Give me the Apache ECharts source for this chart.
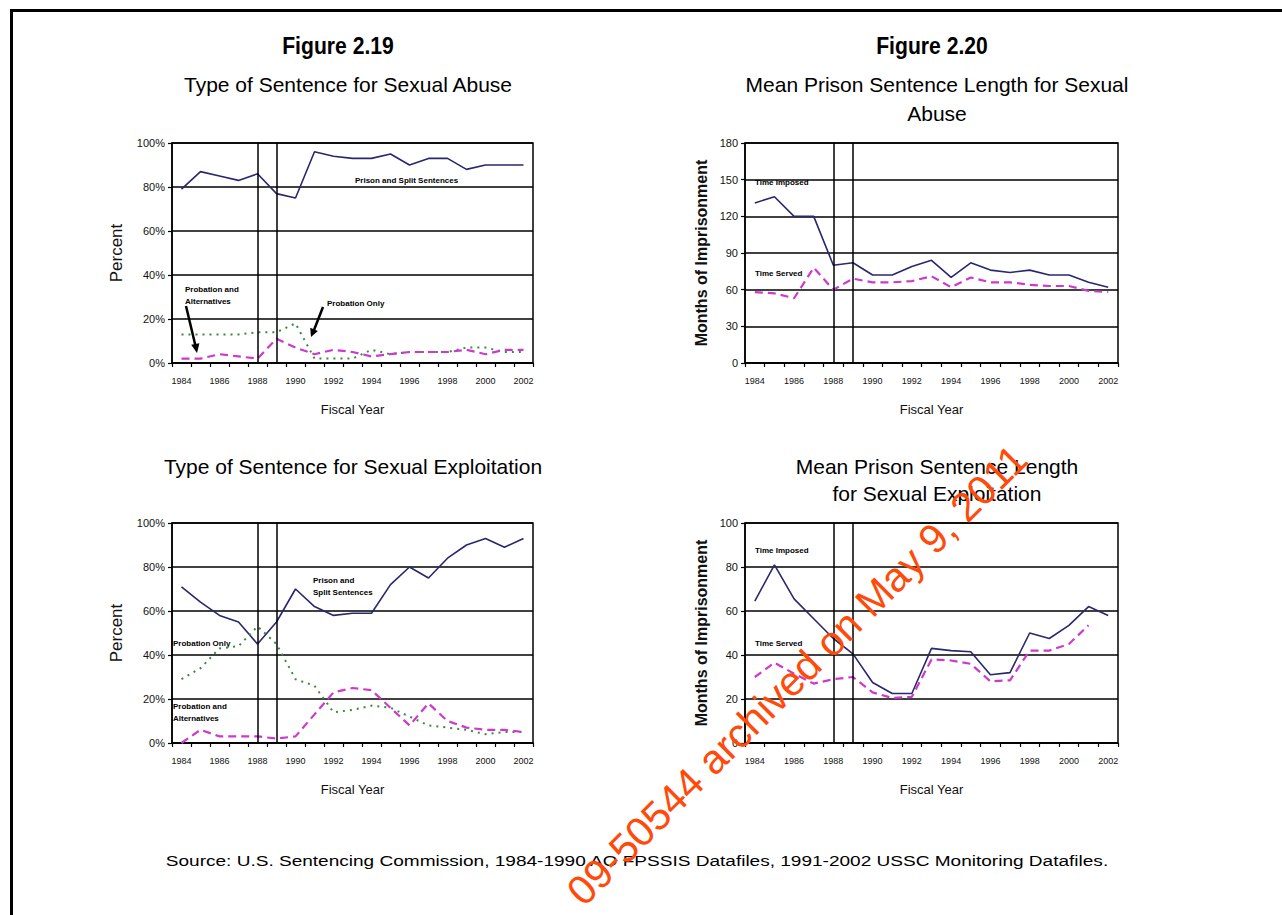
<!DOCTYPE html>
<html>
<head>
<meta charset="utf-8">
<script src="https://cdn.jsdelivr.net/npm/echarts@6/dist/echarts.min.js"></script>
<style>
html,body{margin:0;padding:0;background:#fff;}
#c{width:1282px;height:915px;}
</style>
</head>
<body>
<div id="c"></div>
<script>
// ---- data ----
const years = ['1984','1985','1986','1987','1988','1989','1990','1991','1992','1993','1994','1995','1996','1997','1998','1999','2000','2001','2002'];
const guidelineYears = ['1988','1989'];

// Figure 2.19 – Type of Sentence for Sexual Abuse (percent)
const abusePrison   = [79,87,85,83,86,77,75,96,94,93,93,95,90,93,93,88,90,90,90];
const abuseProbOnly = [13,13,13,13,14,14,18,2,2,2,6,4,5,5,5,7,7,5,5];
const abuseProbAlt  = [2,2,4,3,2,11,7,4,6,5,3,4,5,5,5,6,4,6,6];

// Figure 2.20 – Mean Prison Sentence Length for Sexual Abuse (months)
const abuseImposed = [131,136,120,120,80,82,72,72,79,84,70,82,76,74,76,72,72,66,62];
const abuseServed  = [58,57,53,78,60,69,66,66,67,71,62,70,66,66,64,63,63,59,58];

// Type of Sentence for Sexual Exploitation (percent)
const exploitPrison   = [71,64,58,55,45,55,70,62,58,59,59,72,80,75,84,90,93,89,93];
const exploitProbOnly = [29,34,43,44,53,45,29,26,14,15,17,16,12,8,7,6,4,5,5];
const exploitProbAlt  = [0,6,3,3,3,2,3,13,23,25,24,16,8,18,10,7,6,6,5];

// Mean Prison Sentence Length for Sexual Exploitation (months)
const exploitImposed = [64.5,81,65.5,56.5,47.5,40.5,27.5,22.5,22.5,43,42,41.5,31,32,50,47.5,53.5,62,58];
const exploitServed  = [30,36.5,31.5,27,29,30,23,20.5,21,38,37.5,36,28,28.5,42,42,45,53.5,null];

// ---- styles ----
const NAVY = '#28286e', PINK = '#cc3acc', GREEN = '#3a8a3a';
const FONT = '"Liberation Sans", Arial, sans-serif';

const chart = echarts.init(document.getElementById('c'), null, {renderer:'svg'});

const grids = [
  {left:172, top:143, width:361, height:220},
  {left:745, top:143, width:373, height:220},
  {left:172, top:523, width:361, height:220},
  {left:745, top:523, width:373, height:220}
].map(g => Object.assign(g, {show:true, borderColor:'#000', borderWidth:1.5, backgroundColor:'transparent'}));

function xAxis(i){
  return {
    type:'category', gridIndex:i, data:years, boundaryGap:true,
    name:'Fiscal Year', nameLocation:'middle', nameGap:40,
    nameTextStyle:{fontFamily:FONT, fontSize:13, color:'#111'},
    axisLine:{lineStyle:{color:'#000', width:1.5}},
    axisTick:{show:true, interval:0, length:4, lineStyle:{color:'#000', width:1.2}},
    axisLabel:{interval:1, margin:13, fontFamily:FONT, fontSize:9, color:'#111'},
    splitLine:{show:false}
  };
}
function yAxis(i, max, interval, pct, nameGap){
  return {
    type:'value', gridIndex:i, min:0, max:max, interval:interval,
    name: pct ? 'Percent' : 'Months of Imprisonment',
    nameLocation:'middle', nameGap:nameGap, nameRotate:90,
    nameTextStyle:{fontFamily:FONT, fontSize: pct ? 17 : 16, fontWeight: pct ? 'normal' : 'bold', color:'#111'},
    axisLine:{show:true, lineStyle:{color:'#000', width:1.5}},
    axisTick:{show:true, length:4, lineStyle:{color:'#000', width:1.2}},
    axisLabel:{margin:7, fontFamily:FONT, fontSize:11, color:'#111', formatter: pct ? '{value}%' : '{value}'},
    splitLine:{show:true, lineStyle:{color:'#000', width:1.5}}
  };
}

const guideMark = {
  silent:true, symbol:'none', animation:false,
  label:{show:false},
  lineStyle:{color:'#000', width:1.5, type:'solid'},
  data: guidelineYears.map(y => ({xAxis:y}))
};

function line(i, data, color, type, width, mark){
  const s = {
    type:'line', xAxisIndex:i, yAxisIndex:i, data:data,
    symbol:'none', smooth:false, animation:false, connectNulls:false,
    lineStyle:{color:color, width:width, type:type}
  };
  if (mark) s.markLine = guideMark;
  return s;
}

const DASH = [8,5], DOT = [2,5];

const series = [
  line(0, abusePrison, NAVY, 'solid', 1.6, true),
  line(0, abuseProbOnly, GREEN, DOT, 2, false),
  line(0, abuseProbAlt, PINK, DASH, 2.2, false),
  line(1, abuseImposed, NAVY, 'solid', 1.6, true),
  line(1, abuseServed, PINK, DASH, 2.2, false),
  line(2, exploitPrison, NAVY, 'solid', 1.6, true),
  line(2, exploitProbOnly, GREEN, DOT, 2, false),
  line(2, exploitProbAlt, PINK, DASH, 2.2, false),
  line(3, exploitImposed, NAVY, 'solid', 1.6, true),
  line(3, exploitServed, PINK, DASH, 2.2, false)
];

function txt(x, y, text, size, weight, align, extra){
  return Object.assign({
    type:'text', x:x, y:y, silent:true,
    style:{text:text, fontFamily:FONT, fontSize:size, fontWeight:weight||'normal',
           fill:'#000', textAlign:align||'left', textVerticalAlign:'middle'}
  }, extra||{});
}
function note(x, y, text){ return txt(x, y, text, 8, 'bold', 'left'); }

const graphics = [
  // page frame
  {type:'line', silent:true, shape:{x1:10, y1:10.5, x2:1282, y2:10.5}, style:{stroke:'#000', lineWidth:3}},
  {type:'line', silent:true, shape:{x1:11.5, y1:9, x2:11.5, y2:915}, style:{stroke:'#000', lineWidth:3}},
  // titles
  txt(338, 46, 'Figure 2.19', 23, 'bold', 'center', {scaleX:0.92}),
  txt(348, 84, 'Type of Sentence for Sexual Abuse', 21, 'normal', 'center'),
  txt(932, 46, 'Figure 2.20', 23, 'bold', 'center', {scaleX:0.92}),
  txt(937, 84, 'Mean Prison Sentence Length for Sexual', 21, 'normal', 'center'),
  txt(937, 113, 'Abuse', 21, 'normal', 'center'),
  txt(353, 466, 'Type of Sentence for Sexual Exploitation', 21, 'normal', 'center'),
  txt(937, 466, 'Mean Prison Sentence Length', 21, 'normal', 'center'),
  txt(937, 493, 'for Sexual Exploitation', 21, 'normal', 'center'),
  txt(637, 861, 'Source: U.S. Sentencing Commission, 1984-1990 AO FPSSIS Datafiles, 1991-2002 USSC Monitoring Datafiles.', 15, 'normal', 'center', {scaleX:1.27}),
  // chart 1 notes
  note(355, 180, 'Prison and Split Sentences'),
  note(185, 289, 'Probation and'),
  note(185, 301, 'Alternatives'),
  note(327, 303, 'Probation Only'),
  {type:'line', silent:true, shape:{x1:186, y1:306, x2:195.5, y2:346}, style:{stroke:'#000', lineWidth:2.5}},
  {type:'polygon', silent:true, shape:{points:[[197,353],[191.2,344.8],[199.4,343.2]]}, style:{fill:'#000'}},
  {type:'line', silent:true, shape:{x1:323, y1:307, x2:314, y2:330}, style:{stroke:'#000', lineWidth:2.5}},
  {type:'polygon', silent:true, shape:{points:[[311,337],[310.2,327.8],[317.9,331.1]]}, style:{fill:'#000'}},
  // chart 2 notes
  note(755, 182, 'Time Imposed'),
  note(755, 273, 'Time Served'),
  // chart 3 notes
  note(313, 580, 'Prison and'),
  note(313, 592, 'Split Sentences'),
  note(173, 643, 'Probation Only'),
  note(173, 706, 'Probation and'),
  note(173, 718, 'Alternatives'),
  // chart 4 notes
  note(755, 550, 'Time Imposed'),
  note(755, 643, 'Time Served'),
  // archive stamp
  {type:'text', silent:true, x:797, y:675, rotation:Math.PI*45/180, z:100,
   style:{text:'09-50544 archived on May 9, 2011', fontFamily:FONT, fontSize:41, fill:'#ff4a0a',
          textAlign:'center', textVerticalAlign:'middle'}}
];

chart.setOption({
  animation:false,
  backgroundColor:'#fff',
  grid:grids,
  xAxis:[xAxis(0), xAxis(1), xAxis(2), xAxis(3)],
  yAxis:[yAxis(0,100,20,true,47), yAxis(1,180,30,false,36), yAxis(2,100,20,true,47), yAxis(3,100,20,false,36)],
  series:series,
  graphic:graphics
});
</script>
</body>
</html>
